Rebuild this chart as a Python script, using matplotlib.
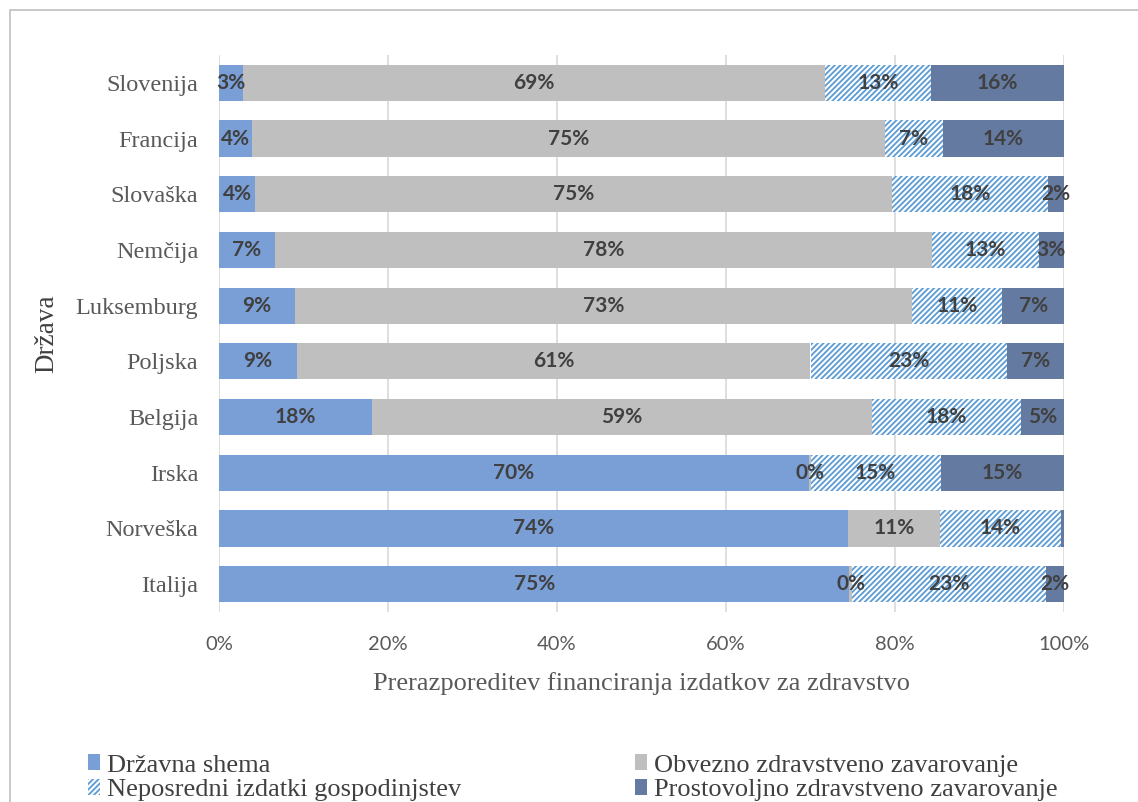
import matplotlib
matplotlib.use("Agg")
import matplotlib.pyplot as plt
from matplotlib.patches import Rectangle, Patch
import numpy as np

# data (shares in %)
countries = ["Slovenija", "Francija", "Slovaška", "Nemčija", "Luksemburg",
             "Poljska", "Belgija", "Irska", "Norveška", "Italija"]
drzavna = [2.8, 3.9, 4.3, 6.6, 9.0, 9.2, 18.1, 69.8, 74.4, 74.6]
obvezno = [68.9, 74.9, 75.4, 77.8, 73.0, 60.8, 59.2, 0.2, 10.9, 0.3]
neposredni = [12.6, 6.9, 18.4, 12.6, 10.7, 23.3, 17.6, 15.4, 14.4, 23.0]
prostovoljno = [15.7, 14.3, 1.9, 3.0, 7.3, 6.7, 5.1, 14.6, 0.3, 2.1]
series_names = ["Državna shema", "Obvezno zdravstveno zavarovanje",
                "Neposredni izdatki gospodinjstev", "Prostovoljno zdravstveno zavarovanje"]
hidden_labels = [("Norveška", 3)]

plt.rcParams["hatch.color"] = "#5B9BD5"
plt.rcParams["hatch.linewidth"] = 1.3

fig = plt.figure(figsize=(11.38, 8.02), dpi=100)
ax = fig.add_axes([219 / 1138, 1 - 612 / 802, 845 / 1138, 557 / 802])

# outer chart border (only top/left visible)
fig.patches.append(Rectangle((10 / 1138, -0.2), 1.2, 1.2 - 10 / 802,
                             transform=fig.transFigure, fill=False,
                             edgecolor="#BFBFBF", linewidth=1.2))

y = np.arange(len(countries))
data = [drzavna, obvezno, neposredni, prostovoljno]
styles = [dict(color="#7A9ED6"), dict(color="#BFBFBF"),
          dict(facecolor="white", hatch="//////"), dict(color="#647AA0")]

left = np.zeros(len(countries))
for k, (vals, st) in enumerate(zip(data, styles)):
    vals = np.array(vals)
    ax.barh(y, vals, left=left, height=0.65, linewidth=0, zorder=2, **st)
    for i, v in enumerate(vals):
        if (countries[i], k) in hidden_labels:
            continue
        ax.text(left[i] + v / 2, y[i], f"{round(v)}%", ha="center", va="center",
                fontsize=15, fontweight="bold", color="#404040",
                family="Lato", zorder=3)
    left += vals

ax.set_xlim(0, 100)
ax.set_ylim(len(countries) - 0.5, -0.5)
ax.set_xticks(np.arange(0, 101, 20))
ax.set_xticklabels([f"{t}%" for t in range(0, 101, 20)], family="Lato",
                   fontsize=14.5, color="#595959")
ax.set_yticks(y)
ax.set_yticklabels(countries, family="Liberation Serif", fontsize=17.5, color="#595959")
ax.tick_params(axis="both", length=0)
ax.tick_params(axis="y", pad=15)
ax.tick_params(axis="x", pad=17)
ax.grid(axis="x", color="#D9D9D9", linewidth=1.2, zorder=0)
ax.set_axisbelow(True)
for s in ax.spines.values():
    s.set_visible(False)

ax.set_xlabel("Prerazporeditev financiranja izdatkov za zdravstvo",
              family="Liberation Serif", fontsize=19, color="#595959", labelpad=14)
ax.set_ylabel("Država", family="Liberation Serif", fontsize=19.5, color="#404040",
              labelpad=12)

order = [0, 2, 1, 3]
leg_handles = [Patch(facecolor="#7A9ED6"), Patch(facecolor="white", hatch="//////"),
               Patch(facecolor="#BFBFBF"), Patch(facecolor="#647AA0")]
leg = fig.legend(leg_handles, [series_names[i] for i in order], ncol=2,
                 loc="upper left", bbox_to_anchor=(70 / 1138, 1 - 736 / 802),
                 frameon=False, handlelength=0.45, handleheight=0.55,
                 handletextpad=0.25, columnspacing=6.6, labelspacing=0.08,
                 borderpad=0.2, prop=dict(family="Liberation Serif", size=19))
for t in leg.get_texts():
    t.set_color("#404040")

fig.savefig("out.png", dpi=100)
